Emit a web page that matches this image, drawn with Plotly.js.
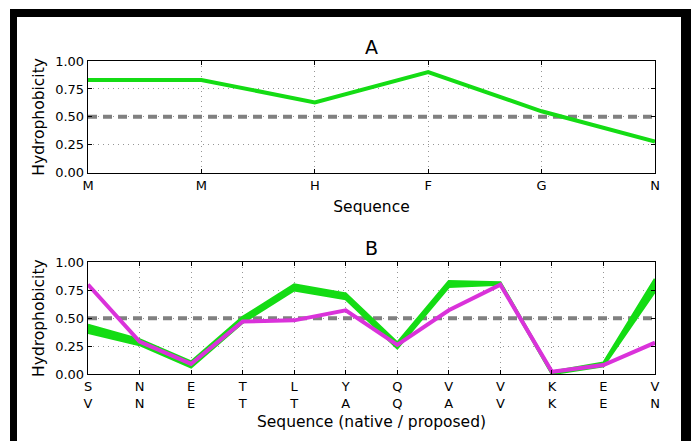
<!DOCTYPE html>
<html>
<head>
<meta charset="utf-8">
<script src="https://cdn.plot.ly/plotly-3.0.1.min.js"></script>
<style>
html,body{margin:0;padding:0;background:#fff;}
#frame{position:absolute;left:10px;top:9px;width:664px;height:440px;border-left:7px solid #000;border-top:8px solid #000;border-right:10px solid #000;}
#chart{position:absolute;left:0;top:0;width:691px;height:441px;}
</style>
</head>
<body>
<div id="frame"></div>
<div id="chart"></div>
<script>
// Panel A
const seqA = ["M", "M", "H", "F", "G", "N"];
const hydroA = [0.83, 0.83, 0.63, 0.90, 0.55, 0.28];

// Panel B
const nativeB = ["S", "N", "E", "T", "L", "Y", "Q", "V", "V", "K", "E", "V"];
const proposedB = ["V", "N", "E", "T", "T", "A", "Q", "A", "V", "K", "E", "N"];
const nativeUpper = [0.44, 0.31, 0.11, 0.51, 0.80, 0.72, 0.28, 0.83, 0.82, 0.02, 0.10, 0.85];
const nativeLower = [0.37, 0.26, 0.06, 0.46, 0.75, 0.67, 0.23, 0.78, 0.80, 0.00, 0.07, 0.74];
const proposedB_vals = [0.80, 0.29, 0.09, 0.47, 0.48, 0.57, 0.26, 0.57, 0.80, 0.02, 0.08, 0.28];

const threshold = 0.5;

const green = "rgb(20,220,20)";
const magenta = "rgb(218,50,218)";
const font = "DejaVu Sans, sans-serif";

const xA = seqA.map((_, i) => i);
const xB = nativeB.map((_, i) => i);
const tickB = nativeB.map((n, i) => n + "<br>" + proposedB[i]);

const traces = [
  {x: [0, seqA.length - 1], y: [threshold, threshold], xaxis: "x", yaxis: "y", mode: "lines",
   line: {color: "rgb(128,128,128)", width: 4, dash: "9px,6px"}, hoverinfo: "skip"},
  {x: xA, y: hydroA, xaxis: "x", yaxis: "y", mode: "lines", line: {color: green, width: 4}},
  {x: [0, nativeB.length - 1], y: [threshold, threshold], xaxis: "x2", yaxis: "y2", mode: "lines",
   line: {color: "rgb(128,128,128)", width: 4, dash: "9px,6px"}, hoverinfo: "skip"},
  {x: xB, y: nativeLower, xaxis: "x2", yaxis: "y2", mode: "lines", line: {color: green, width: 2.5}},
  {x: xB, y: nativeUpper, xaxis: "x2", yaxis: "y2", mode: "lines", fill: "tonexty",
   fillcolor: green, line: {color: green, width: 2.5}},
  {x: xB, y: proposedB_vals, xaxis: "x2", yaxis: "y2", mode: "lines", line: {color: magenta, width: 4}}
];

const axisCommon = {
  showline: true, linecolor: "#000", linewidth: 1.3, mirror: "ticks",
  ticks: "inside", ticklen: 4, tickcolor: "#000", tickwidth: 1,
  showgrid: true, gridcolor: "rgb(150,150,150)", griddash: "1px,4px", gridwidth: 1,
  zeroline: false, tickfont: {family: font, size: 13, color: "#000"}
};

const layout = {
  width: 691, height: 441,
  paper_bgcolor: "rgba(0,0,0,0)", plot_bgcolor: "#fff",
  showlegend: false,
  margin: {l: 88, r: 36, t: 61, b: 67},
  font: {family: font, color: "#000"},
  xaxis: Object.assign({}, axisCommon, {domain: [0, 1], anchor: "y", range: [0, seqA.length - 1],
    tickvals: xA, ticktext: seqA,
    title: {text: "Sequence", font: {family: font, size: 15.5}, standoff: 9}}),
  yaxis: Object.assign({}, axisCommon, {domain: [0.643, 1], anchor: "x", range: [0, 1],
    tickvals: [0, 0.25, 0.5, 0.75, 1], ticktext: ["0.00", "0.25", "0.50", "0.75", "1.00"],
    title: {text: "Hydrophobicity", font: {family: font, size: 15.5}, standoff: 6}}),
  xaxis2: Object.assign({}, axisCommon, {domain: [0, 1], anchor: "y2", range: [0, nativeB.length - 1],
    tickvals: xB, ticktext: tickB,
    title: {text: "Sequence (native / proposed)", font: {family: font, size: 15.5}, standoff: 6}}),
  yaxis2: Object.assign({}, axisCommon, {domain: [0, 0.357], anchor: "x2", range: [0, 1],
    tickvals: [0, 0.25, 0.5, 0.75, 1], ticktext: ["0.00", "0.25", "0.50", "0.75", "1.00"],
    title: {text: "Hydrophobicity", font: {family: font, size: 15.5}, standoff: 6}}),
  annotations: [
    {text: "A", xref: "paper", yref: "paper", x: 0.5, y: 1, yanchor: "bottom", yshift: 1,
     showarrow: false, font: {family: font, size: 19, color: "#000"}},
    {text: "B", xref: "paper", yref: "paper", x: 0.5, y: 0.357, yanchor: "bottom", yshift: 1,
     showarrow: false, font: {family: font, size: 19, color: "#000"}}
  ]
};

Plotly.newPlot("chart", traces, layout, {displayModeBar: false, staticPlot: true});
</script>
</body>
</html>
